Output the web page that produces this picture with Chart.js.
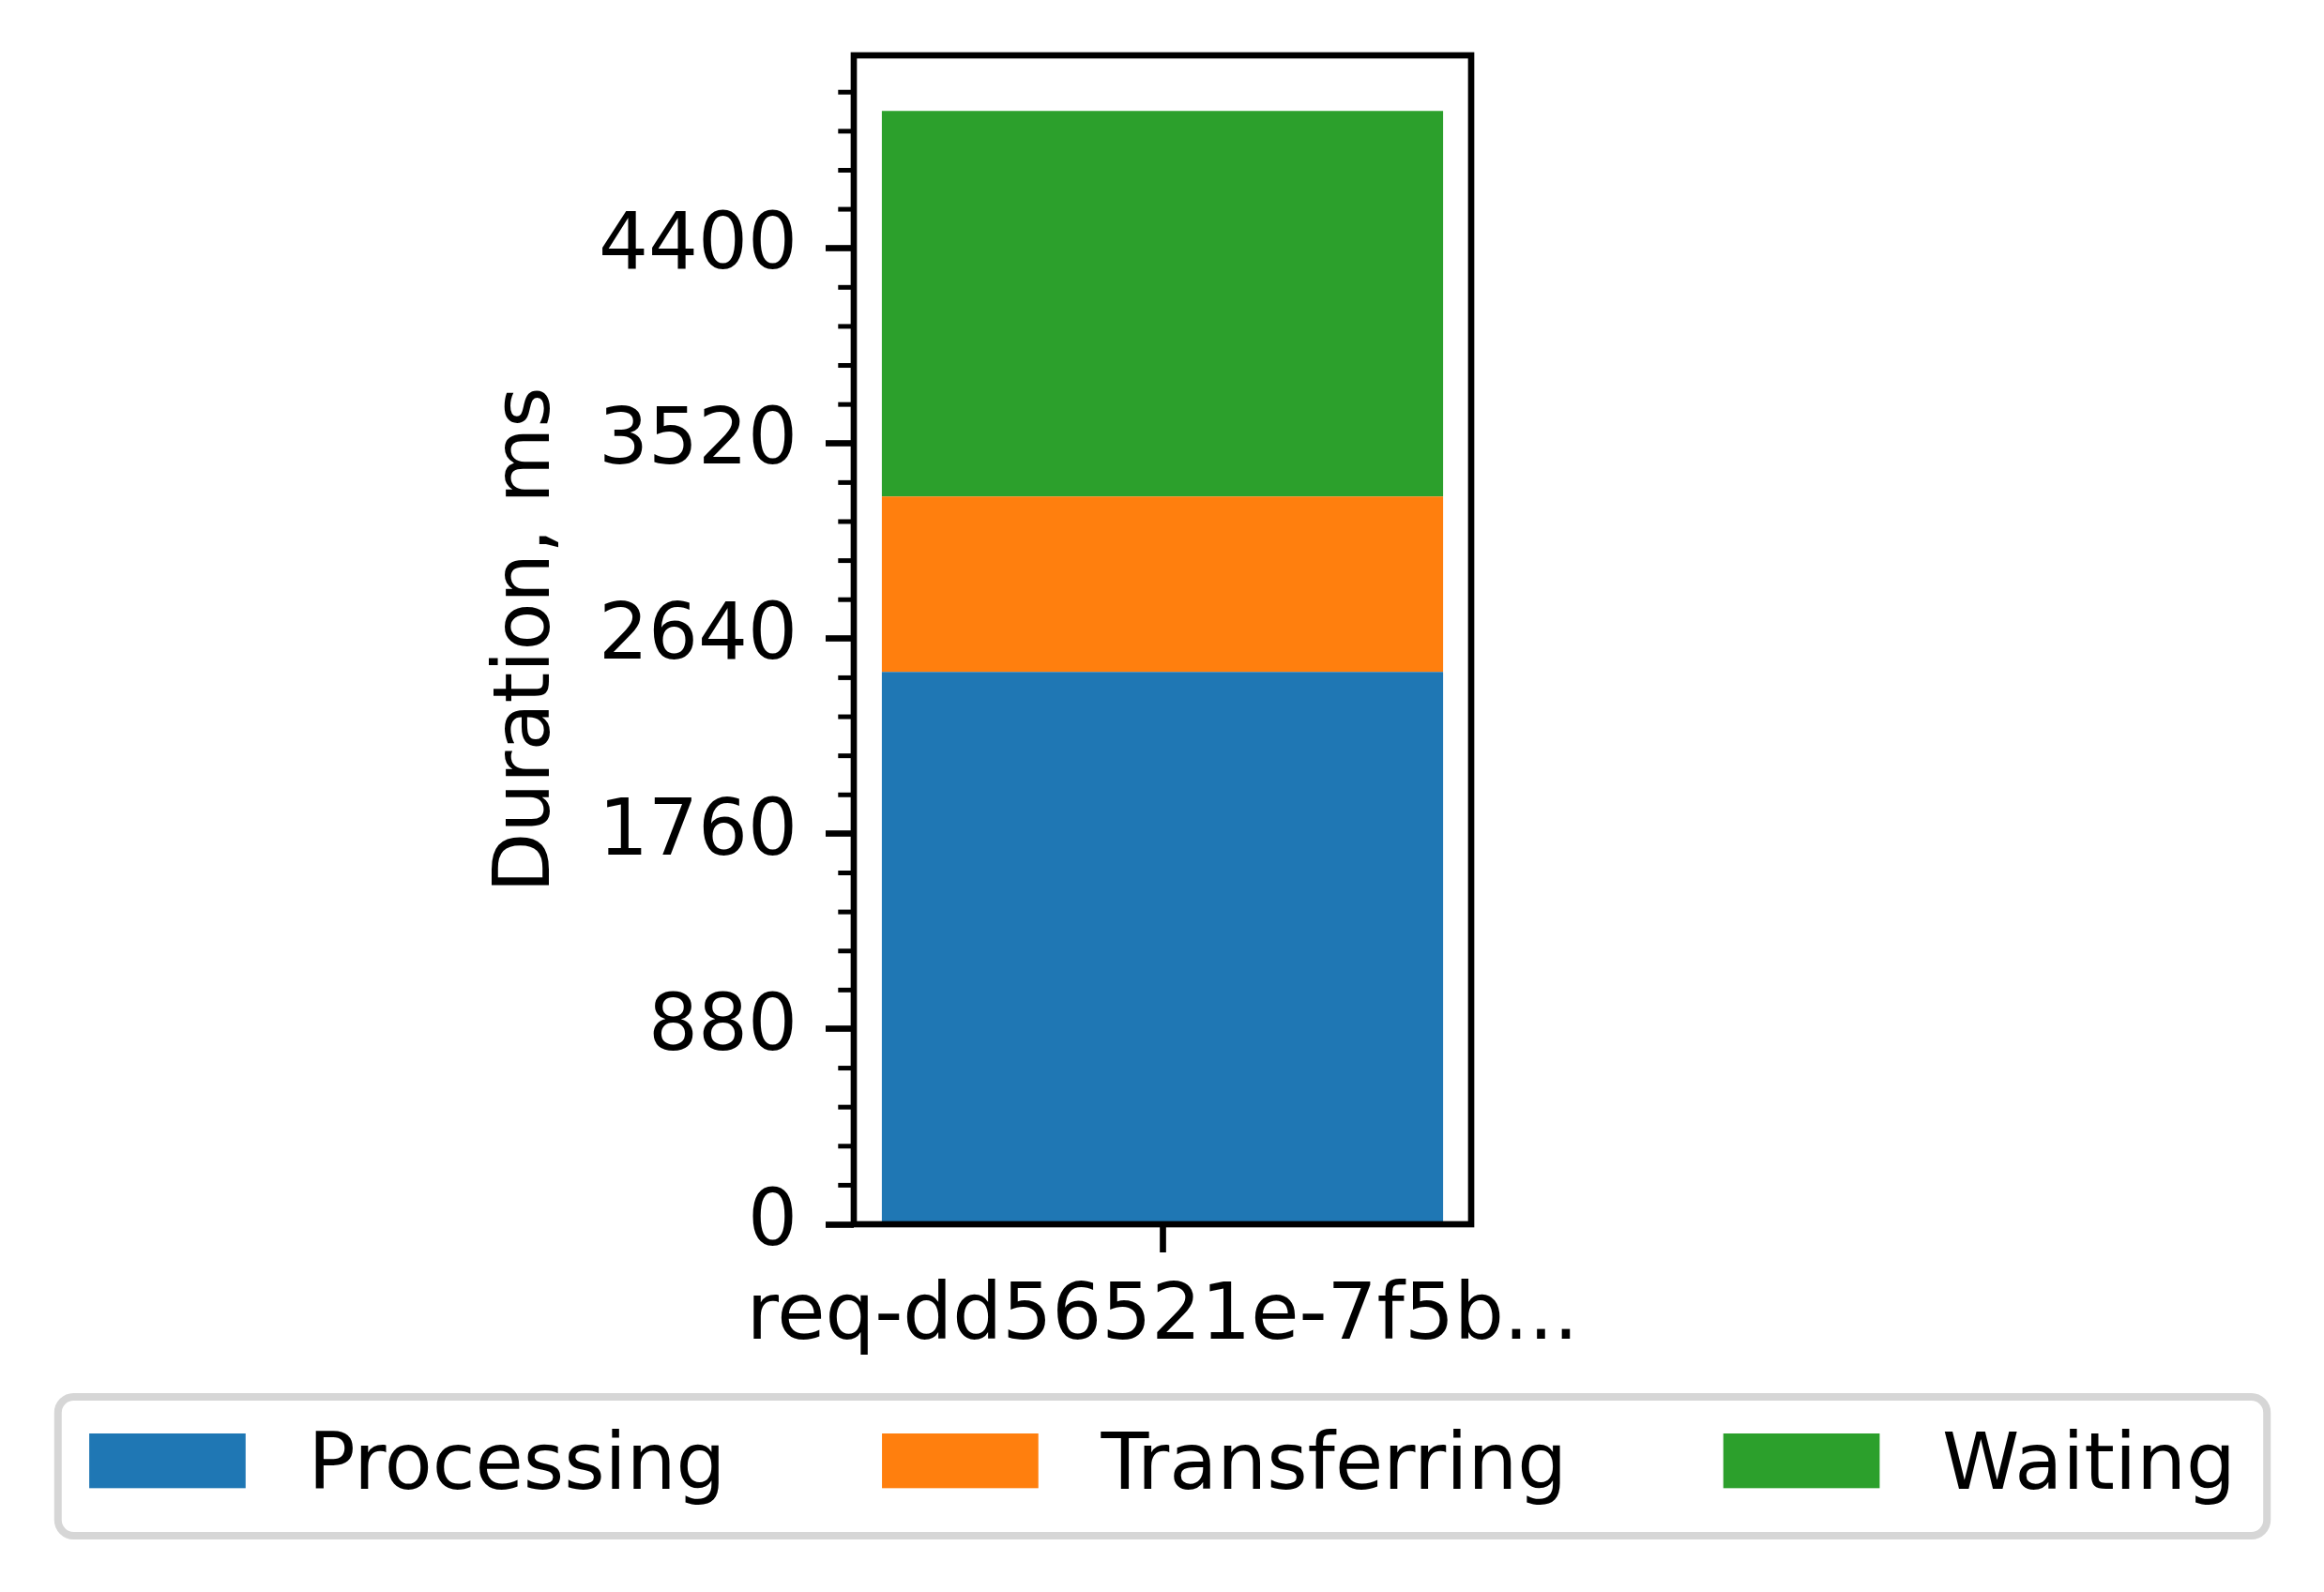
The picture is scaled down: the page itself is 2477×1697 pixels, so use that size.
<!DOCTYPE html>
<html><head><meta charset="utf-8">
<script src="https://cdn.jsdelivr.net/npm/chart.js@4"></script>
<style>html,body{margin:0;padding:0;background:#fff;} canvas{display:block}</style>
</head><body>
<canvas id="c" width="2477" height="1697"></canvas>
<script>
// ---- data ----
const categories = ['req-dd56521e-7f5b...'];
const seriesNames = ['Processing', 'Transferring', 'Waiting'];
const processing = [2490];
const transferring = [791];
const waiting = [1738];
const seriesColors = ['#1f77b4', '#ff7f0e', '#2ca02c'];
const yMax = 5270;
const yTickValues = [0, 880, 1760, 2640, 3520, 4400];
const yMinorStep = 176;
const yTitle = 'Duration, ms';

// ---- style ----
const FONT = 'DejaVu Sans';
const FS = 83.33;
const LW = 6.67;

const extras = {
  id: 'extras',
  afterDraw(chart) {
    const ctx = chart.ctx;
    const a = chart.chartArea;
    const y = chart.scales.y;
    ctx.save();
    // minor ticks
    ctx.strokeStyle = '#000';
    ctx.lineWidth = 5;
    for (let k = 1; k * yMinorStep <= y.max; k++) {
      const v = k * yMinorStep;
      if (yTickValues.includes(v)) continue;
      const py = y.getPixelForValue(v);
      ctx.beginPath();
      ctx.moveTo(a.left - 16.7, py);
      ctx.lineTo(a.left, py);
      ctx.stroke();
    }
    // frame
    ctx.lineWidth = LW;
    ctx.strokeRect(a.left, a.top, a.right - a.left, a.bottom - a.top);

    // legend
    ctx.font = FS + 'px "' + FONT + '"';
    const handleLen = 2 * FS, textPad = 0.8 * FS, colSp = 2 * FS, borderPad = 0.4 * FS;
    const ds = chart.data.datasets;
    const widths = ds.map(d => ctx.measureText(d.label).width);
    let content = colSp * (ds.length - 1);
    widths.forEach(w => content += handleLen + textPad + w);
    const cx = (a.left + a.right) / 2;
    const x0 = cx - content / 2;
    const top = a.bottom + 184, bottom = a.bottom + 332;
    ctx.strokeStyle = '#d6d6d6';
    ctx.lineWidth = 8;
    ctx.fillStyle = '#fff';
    ctx.beginPath();
    ctx.roundRect(x0 - borderPad, top, content + 2 * borderPad, bottom - top, 16.7);
    ctx.fill();
    ctx.stroke();
    let x = x0;
    const pTop = top + 39, pH = 0.7 * FS;
    ds.forEach((d, i) => {
      ctx.fillStyle = d.backgroundColor;
      ctx.fillRect(x, pTop, handleLen, pH);
      ctx.fillStyle = '#000';
      ctx.textBaseline = 'alphabetic';
      ctx.textAlign = 'left';
      ctx.fillText(d.label, x + handleLen + textPad, pTop + pH + 1);
      x += handleLen + textPad + widths[i] + colSp;
    });
    ctx.restore();
  }
};

new Chart(document.getElementById('c'), {
  type: 'bar',
  data: {
    labels: categories,
    datasets: [
      { label: seriesNames[0], data: processing, backgroundColor: seriesColors[0] },
      { label: seriesNames[1], data: transferring, backgroundColor: seriesColors[1] },
      { label: seriesNames[2], data: waiting, backgroundColor: seriesColors[2] }
    ]
  },
  options: {
    responsive: false,
    devicePixelRatio: 1,
    animation: false,
    layout: { padding: { top: 59, right: 909, bottom: 0, left: 0 } },
    datasets: { bar: { categoryPercentage: 1, barPercentage: 0.8 / 0.88, borderWidth: 0 } },
    plugins: { legend: { display: false }, tooltip: { enabled: false } },
    scales: {
      x: {
        stacked: true,
        offset: true,
        grid: { offset: false, drawOnChartArea: false, drawTicks: true, tickLength: 30, tickWidth: LW, tickColor: '#000' },
        border: { display: false },
        ticks: { color: '#000', font: { family: FONT, size: FS }, padding: 20, maxRotation: 0, minRotation: 0, autoSkip: false },
        afterFit(s) { s.height = 1697 - 1305; }
      },
      y: {
        stacked: true,
        min: 0,
        max: yMax,
        grid: { drawOnChartArea: false, drawTicks: true, tickLength: 30, tickWidth: LW, tickColor: '#000' },
        border: { display: false },
        afterBuildTicks(s) { s.ticks = yTickValues.map(v => ({ value: v })); },
        ticks: { color: '#000', font: { family: FONT, size: FS }, padding: 30, callback: v => String(v) },
        title: { display: true, text: yTitle, color: '#000', font: { family: FONT, size: FS, lineHeight: 1.2 }, padding: { top: 513, bottom: 0 } },
        afterFit(s) { s.width = 910; s.paddingTop = 0; s.paddingBottom = 0; }
      }
    }
  },
  plugins: [extras]
});
</script>
</body></html>
